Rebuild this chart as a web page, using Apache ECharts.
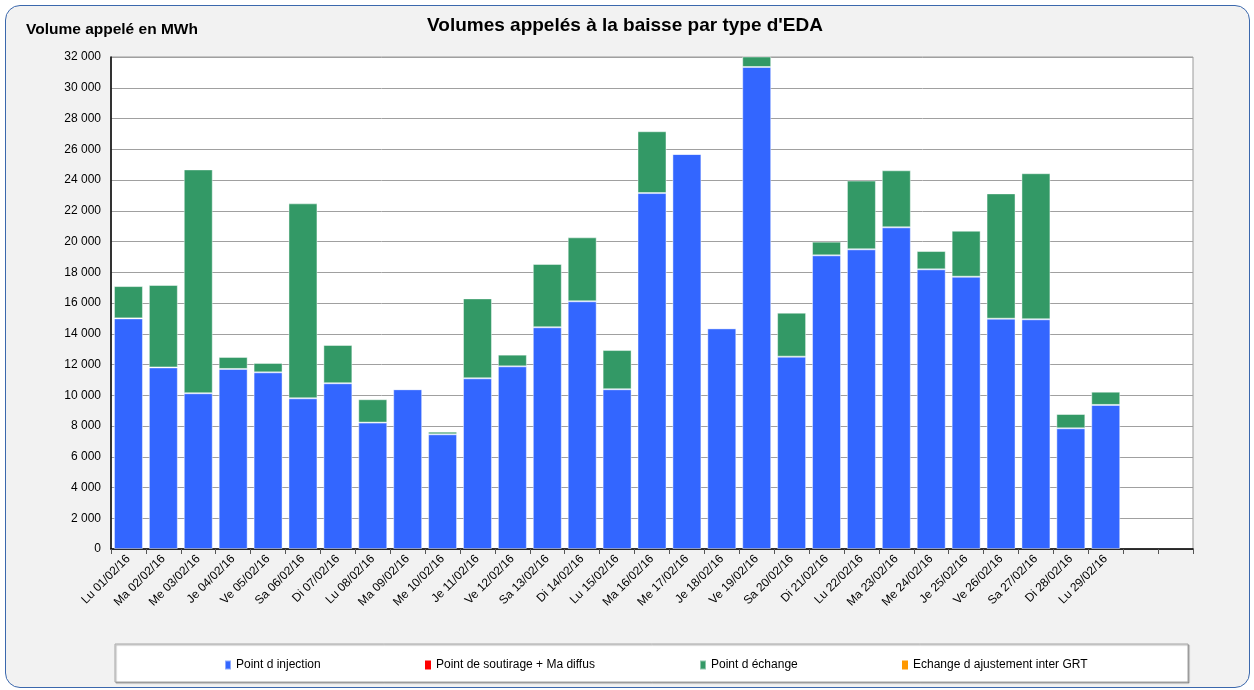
<!DOCTYPE html>
<html>
<head>
<meta charset="utf-8">
<script src="https://cdn.jsdelivr.net/npm/echarts@6/dist/echarts.min.js"></script>
<style>
  body { margin: 0; background: #ffffff; }
  #frame {
    position: absolute; left: 5px; top: 5px; width: 1245px; height: 683px;
    box-sizing: border-box; border: 1px solid #3b68ad; border-radius: 15px;
    background: #f2f2f2;
  }
  #main { position: absolute; left: 0; top: 0; width: 1254px; height: 690px; }
</style>
</head>
<body>
<div id="frame"></div>
<div id="main"></div>
<script>
// jours de février 2016 (31 emplacements sur l'axe, les deux derniers vides)
const categories = [
  'Lu 01/02/16', 'Ma 02/02/16', 'Me 03/02/16', 'Je 04/02/16', 'Ve 05/02/16', 'Sa 06/02/16', 'Di 07/02/16',
  'Lu 08/02/16', 'Ma 09/02/16', 'Me 10/02/16', 'Je 11/02/16', 'Ve 12/02/16', 'Sa 13/02/16', 'Di 14/02/16',
  'Lu 15/02/16', 'Ma 16/02/16', 'Me 17/02/16', 'Je 18/02/16', 'Ve 19/02/16', 'Sa 20/02/16', 'Di 21/02/16',
  'Lu 22/02/16', 'Ma 23/02/16', 'Me 24/02/16', 'Je 25/02/16', 'Ve 26/02/16', 'Sa 27/02/16', 'Di 28/02/16',
  'Lu 29/02/16', '', ''
];

// Point d injection
const injection = [
  15000, 11810, 10130, 11710, 11490, 9800, 10780,
  8220, 10390, 7460, 11100, 11880, 14420, 16110,
  10390, 23150, 25690, 14350, 31350, 12510, 19100,
  19490, 20920, 18190, 17710, 14980, 14940, 7850,
  9370, null, null
];

// Point de soutirage + Ma diffus
const soutirage = [
  0, 0, 0, 0, 0, 0, 0, 0, 0, 0, 0, 0, 0, 0, 0,
  0, 0, 0, 0, 0, 0, 0, 0, 0, 0, 0, 0, 0, 0, null, null
];

// Point d échange
const echange = [
  2100, 5360, 14560, 780, 610, 12680, 2490,
  1520, 0, 170, 5200, 760, 4120, 4160,
  2550, 4020, 0, 0, 1200, 2860, 890,
  4470, 3710, 1190, 2990, 8150, 9500, 930,
  860, null, null
];

// Echange d ajustement inter GRT
const ajustement = [
  0, 0, 0, 0, 0, 0, 0, 0, 0, 0, 0, 0, 0, 0, 0,
  0, 0, 0, 0, 0, 0, 0, 0, 0, 0, 0, 0, 0, 0, null, null
];

const seriesNames = ['Point d injection', 'Point de soutirage + Ma diffus', 'Point d échange', 'Echange d ajustement inter GRT'];
const colors = ['#3366ff', '#ff0000', '#339966', '#ff9900'];
const legendLeft = [219, 420, 694, 897];

function formatNumber(v) {
  return String(v).replace(/\B(?=(\d{3})+(?!\d))/g, ' ');
}

const chart = echarts.init(document.getElementById('main'));

const makeBar = (name, data, color, border) => ({
  name: name,
  type: 'bar',
  stack: 'total',
  data: data,
  barCategoryGap: '17%',
  itemStyle: {
    color: color,
    borderColor: border ? 'rgba(255,255,255,0.45)' : color,
    borderWidth: border ? 1 : 0
  },
  emphasis: { disabled: true }
});

chart.setOption({
  animation: false,
  color: colors,
  textStyle: { fontFamily: 'Liberation Sans, Arial, sans-serif' },
  title: [
    {
      text: "Volumes appelés à la baisse par type d'EDA",
      left: 620, top: 11, textAlign: 'center',
      textStyle: { fontSize: 19, fontWeight: 'bold', color: '#000' }
    },
    {
      text: 'Volume appelé en MWh',
      left: 21, top: 17,
      textStyle: { fontSize: 15.5, fontWeight: 'bold', color: '#000' }
    }
  ],
  legend: seriesNames.map((n, i) => ({
    data: [n],
    left: legendLeft[i],
    top: 654,
    icon: 'rect',
    itemWidth: 6,
    itemHeight: 9,
    itemGap: 4,
    textStyle: { fontSize: 12, color: '#000' },
    selectedMode: false
  })),
  graphic: [
    {
      type: 'rect',
      z: 0,
      shape: { x: 115, y: 644, width: 1073, height: 38 },
      style: {
        fill: '#ffffff', stroke: '#a6a6a6', lineWidth: 1,
        shadowColor: 'rgba(0,0,0,0.3)', shadowOffsetX: 1, shadowOffsetY: 1, shadowBlur: 1
      }
    }
  ],
  grid: {
    left: 111, right: 61, top: 57, bottom: 141,
    show: true, backgroundColor: '#ffffff', borderColor: '#9a9a9a', borderWidth: 1
  },
  xAxis: {
    type: 'category',
    data: categories,
    axisLine: { lineStyle: { color: '#000', width: 1.5 } },
    axisTick: { show: true, length: 5, lineStyle: { color: '#555' } },
    axisLabel: { rotate: 45, fontSize: 12, color: '#000', margin: 8, interval: 0 }
  },
  yAxis: {
    type: 'value',
    min: 0, max: 32000, interval: 2000,
    axisLine: { show: true, lineStyle: { color: '#000', width: 1.5 } },
    axisTick: { show: false },
    axisLabel: { fontSize: 12, color: '#000', margin: 10, formatter: formatNumber },
    splitLine: { lineStyle: { color: '#a0a0a0', width: 1 } }
  },
  series: [
    makeBar(seriesNames[0], injection, colors[0], true),
    makeBar(seriesNames[1], soutirage, colors[1], false),
    makeBar(seriesNames[2], echange, colors[2], true),
    makeBar(seriesNames[3], ajustement, colors[3], false)
  ]
});
</script>
</body>
</html>
